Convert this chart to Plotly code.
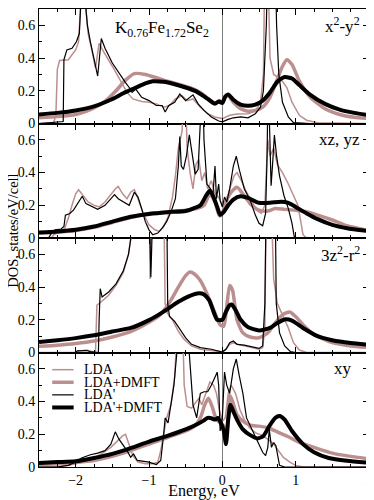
import plotly.graph_objects as go
from plotly.subplots import make_subplots

# ---- x2-y2 panel ----
x2y2_lda_e = [-2.5, -2.3, -2.27, -2.25, -2.22, -2.1, -2.05, -2.0, -1.96, -1.93, -1.9, -1.87, -1.83, -1.78, -1.73,
              -1.68, -1.62, -1.5, -1.4, -1.3, -1.22, -1.1, -1.0, -0.9, -0.8, -0.72, -0.64, -0.55, -0.48, -0.4,
              -0.3, -0.2, -0.1, 0.0, 0.1, 0.2, 0.35, 0.45, 0.52, 0.56, 0.58, 0.62, 0.65, 0.7, 0.8, 0.88, 0.95,
              1.05, 1.15, 1.3, 2.0]
x2y2_lda = [0, 0.005, 0.05, 0.33, 0.385, 0.39, 0.42, 0.45, 0.5, 0.75, 1.0, 0.75, 0.55, 0.45, 0.34,
            0.49, 0.44, 0.35, 0.27, 0.19, 0.15, 0.135, 0.13, 0.12, 0.1, 0.11, 0.15, 0.17, 0.14, 0.15,
            0.1, 0.06, 0.04, 0.03, 0.05, 0.058, 0.06, 0.075, 0.13, 0.3, 1.0, 1.0, 0.4, 0.3, 0.27, 0.22, 0.13,
            0.05, 0.02, 0.005, 0]
x2y2_dmft_e = [-2.5, -2.25, -2.0, -1.85, -1.75, -1.6, -1.45, -1.32, -1.2, -1.05, -0.9, -0.75, -0.6, -0.45, -0.3,
               -0.2, -0.1, -0.03, 0.0, 0.04, 0.08, 0.15, 0.25, 0.35, 0.45, 0.55, 0.65, 0.75, 0.82, 0.88, 0.95,
               1.05, 1.2, 1.4, 1.6, 1.8, 2.0]
x2y2_dmft = [0.035, 0.042, 0.055, 0.075, 0.095, 0.135, 0.2, 0.265, 0.305, 0.3, 0.28, 0.258, 0.24, 0.22, 0.19,
             0.155, 0.125, 0.14, 0.125, 0.16, 0.17, 0.13, 0.09, 0.075, 0.08, 0.1, 0.16, 0.27, 0.35, 0.39, 0.36,
             0.26, 0.16, 0.09, 0.055, 0.038, 0.03]
x2y2_ldap_e = [-2.5, -2.3, -2.2, -2.17, -2.16, -2.12, -2.05, -1.99, -1.95, -1.93, -1.9, -1.87, -1.84, -1.8, -1.75,
               -1.7, -1.65, -1.6, -1.5, -1.4, -1.32, -1.27, -1.23, -1.18, -1.1, -1.0, -0.9, -0.82, -0.78, -0.73,
               -0.65, -0.58, -0.5, -0.4, -0.33, -0.25, -0.15, -0.05, 0.0, 0.08, 0.15, 0.25, 0.35, 0.45, 0.52,
               0.56, 0.6, 0.62, 0.72, 0.74, 0.77, 0.82, 0.9, 0.97, 1.2, 2.0]
x2y2_ldap = [0, 0.005, 0.01, 0.012, 0.39, 0.45, 0.46, 0.5, 0.55, 0.8, 1.0, 0.75, 0.6, 0.5, 0.4,
             0.29, 0.52, 0.46, 0.37, 0.3, 0.25, 0.22, 0.19, 0.21, 0.16, 0.14, 0.11, 0.11, 0.07, 0.11,
             0.13, 0.18, 0.14, 0.175, 0.12, 0.08, 0.04, 0.015, 0.01, 0.025, 0.035, 0.04, 0.035, 0.06, 0.1,
             0.2, 0.6, 1.0, 1.0, 0.6, 0.3, 0.13, 0.04, 0.005, 0, 0]
x2y2_ldap_dmft_e = [-2.5, -2.25, -2.0, -1.75, -1.5, -1.35, -1.2, -1.05, -0.95, -0.8, -0.65, -0.5, -0.35, -0.2,
                    -0.1, -0.05, 0.0, 0.04, 0.08, 0.15, 0.25, 0.35, 0.45, 0.55, 0.65, 0.75, 0.85, 0.95, 1.05,
                    1.2, 1.4, 1.6, 1.8, 2.0]
x2y2_ldap_dmft = [0.055, 0.065, 0.08, 0.105, 0.15, 0.185, 0.215, 0.245, 0.258, 0.255, 0.24, 0.22, 0.195, 0.15,
                  0.12, 0.135, 0.125, 0.165, 0.178, 0.145, 0.115, 0.108, 0.115, 0.14, 0.19, 0.255, 0.284, 0.275,
                  0.235, 0.175, 0.12, 0.085, 0.065, 0.05]

# ---- xz, yz panel ----
xz_lda_e = [-2.5, -2.33, -2.3, -2.25, -2.2, -2.15, -2.1, -2.05, -2.0, -1.96, -1.9, -1.83, -1.75, -1.68, -1.6,
            -1.52, -1.46, -1.42, -1.36, -1.3, -1.25, -1.2, -1.15, -1.08, -1.0, -0.92, -0.86, -0.8, -0.74, -0.68,
            -0.64, -0.6, -0.55, -0.51, -0.48, -0.44, -0.4, -0.36, -0.32, -0.28, -0.24, -0.2, -0.15, -0.1, -0.05,
            0.0, 0.05, 0.1, 0.16, 0.2, 0.26, 0.33, 0.4, 0.47, 0.53, 0.58, 0.6, 0.62, 0.65, 0.7, 0.75, 0.82,
            0.9, 0.97, 1.03, 1.07, 1.1, 1.15, 2.0]
xz_lda = [0, 0, 0.02, 0.03, 0.04, 0.06, 0.12, 0.2, 0.27, 0.295, 0.26, 0.22, 0.2, 0.19, 0.22,
          0.27, 0.3, 0.315, 0.27, 0.24, 0.28, 0.295, 0.24, 0.15, 0.08, 0.05, 0.04, 0.07, 0.13, 0.25,
          0.38, 0.55, 0.65, 1.0, 0.55, 0.4, 0.3, 0.45, 0.48, 0.35, 0.4, 0.3, 0.35, 0.27, 0.25,
          0.2, 0.22, 0.3, 0.38, 0.4, 0.35, 0.28, 0.22, 0.17, 0.15, 0.2, 0.4, 0.6, 0.5, 0.55, 0.45, 0.4,
          0.33, 0.26, 0.2, 0.1, 0.02, 0, 0]
xz_dmft_e = [-2.5, -2.25, -2.0, -1.75, -1.5, -1.25, -1.0, -0.75, -0.5, -0.35, -0.25, -0.17, -0.1, -0.04, 0.0,
             0.05, 0.12, 0.2, 0.28, 0.38, 0.5, 0.62, 0.72, 0.85, 1.0, 1.15, 1.3, 1.5, 1.7, 2.0]
xz_dmft = [0.03, 0.035, 0.045, 0.065, 0.095, 0.125, 0.15, 0.16, 0.17, 0.18, 0.2, 0.27, 0.22, 0.135, 0.15,
           0.22, 0.28, 0.31, 0.27, 0.21, 0.17, 0.165, 0.18, 0.175, 0.17, 0.16, 0.14, 0.11, 0.075, 0.045]
xz_ldap_e = [-2.5, -2.37, -2.33, -2.28, -2.2, -2.16, -2.14, -2.08, -2.03, -1.97, -1.91, -1.86, -1.8, -1.7, -1.6,
             -1.5, -1.47, -1.42, -1.35, -1.27, -1.2, -1.15, -1.1, -1.05, -1.0, -0.95, -0.88, -0.82, -0.76, -0.7,
             -0.64, -0.6, -0.58, -0.56, -0.53, -0.49, -0.45, -0.41, -0.37, -0.33, -0.29, -0.27, -0.25, -0.21,
             -0.16, -0.13, -0.1, -0.08, -0.05, -0.03, 0.0, 0.03, 0.06, 0.1, 0.15, 0.19, 0.23, 0.3, 0.38, 0.45,
             0.5, 0.55, 0.59, 0.61, 0.625, 0.645, 0.665, 0.685, 0.71, 0.74, 0.78, 0.84, 0.9, 0.95, 0.98, 1.0, 2.0]
xz_ldap = [0, 0, 0.03, 0.05, 0.055, 0.07, 0.14, 0.15, 0.17, 0.21, 0.255, 0.21, 0.195, 0.175, 0.2,
           0.25, 0.265, 0.24, 0.22, 0.2, 0.28, 0.25, 0.18, 0.1, 0.05, 0.02, 0.03, 0.06, 0.1, 0.16,
           0.24, 0.44, 0.62, 0.44, 0.42, 0.5, 0.63, 0.5, 0.39, 0.42, 0.75, 1.0, 0.6, 0.33,
           0.3, 0.25, 0.44, 0.24, 0.33, 0.23, 0.19, 0.25, 0.22, 0.3, 0.44, 0.5, 0.42, 0.3, 0.23, 0.14,
           0.09, 0.075, 0.15, 0.5, 1.0, 0.6, 0.32, 0.45, 0.63, 0.5, 0.38, 0.26, 0.18, 0.09, 0.01, 0, 0]
xz_ldap_dmft_e = [-2.5, -2.25, -2.0, -1.75, -1.5, -1.25, -1.0, -0.75, -0.5, -0.4, -0.3, -0.22, -0.17, -0.12,
                  -0.07, -0.03, 0.02, 0.08, 0.15, 0.25, 0.35, 0.5, 0.65, 0.8, 0.9, 1.0, 1.15, 1.3, 1.5, 1.7, 2.0]
xz_ldap_dmft = [0.034, 0.04, 0.05, 0.07, 0.1, 0.13, 0.147, 0.158, 0.165, 0.18, 0.2, 0.26, 0.29, 0.25,
                0.19, 0.142, 0.16, 0.2, 0.235, 0.255, 0.245, 0.215, 0.215, 0.222, 0.215, 0.19, 0.15, 0.115,
                0.08, 0.06, 0.042]

# ---- 3z2-r2 panel ----
z2_lda_e = [-2.5, -2.0, -1.95, -1.85, -1.78, -1.73, -1.71, -1.65, -1.55, -1.45, -1.35, -1.28, -1.23, -1.17, -1.0,
            -0.985, -0.95, -0.8, -0.78, -0.75, -0.68, -0.6, -0.52, -0.42, -0.3, -0.15, 0.0, 0.05, 0.1, 0.15,
            0.25, 0.4, 0.5, 0.55, 0.58, 0.6, 0.66, 0.7, 0.75, 0.82, 0.9, 0.97, 1.05, 1.15, 2.0]
z2_lda = [0, 0, 0.01, 0.015, 0.005, 0, 0.29, 0.31, 0.35, 0.41, 0.49, 0.6, 0.75, 1.0, 1.0,
          0.45, 1.0, 1.0, 0.3, 0.24, 0.2, 0.13, 0.08, 0.04, 0.02, 0.012, 0.005, 0.02, 0.05, 0.06,
          0.045, 0.03, 0.02, 0.03, 0.15, 1.0, 1.0, 0.45, 0.3, 0.23, 0.15, 0.06, 0.015, 0, 0]
z2_dmft_e = [-2.5, -2.25, -2.0, -1.75, -1.5, -1.25, -1.0, -0.85, -0.7, -0.6, -0.5, -0.44, -0.38, -0.3, -0.2,
             -0.1, -0.03, 0.02, 0.06, 0.1, 0.14, 0.2, 0.28, 0.38, 0.5, 0.62, 0.72, 0.82, 0.92, 1.0, 1.1, 1.25,
             1.5, 1.75, 2.0]
z2_dmft = [0.038, 0.045, 0.055, 0.07, 0.095, 0.128, 0.185, 0.23, 0.32, 0.4, 0.47, 0.492, 0.48, 0.44, 0.35,
           0.24, 0.17, 0.16, 0.28, 0.41, 0.38, 0.2, 0.12, 0.095, 0.09, 0.12, 0.18, 0.23, 0.248, 0.22, 0.17, 0.11,
           0.06, 0.04, 0.03]
z2_ldap_e = [-2.5, -2.0, -1.98, -1.85, -1.8, -1.69, -1.68, -1.665, -1.64, -1.55, -1.45, -1.35, -1.28, -1.22,
             -1.15, -1.0, -0.975, -0.94, -0.76, -0.745, -0.72, -0.65, -0.58, -0.5, -0.42, -0.3, -0.15, -0.05,
             0.0, 0.05, 0.1, 0.15, 0.2, 0.3, 0.4, 0.5, 0.55, 0.58, 0.6, 0.72, 0.735, 0.78, 0.85, 0.93, 1.0, 2.0]
z2_ldap = [0, 0, 0.01, 0.012, 0.005, 0, 0.2, 0.39, 0.34, 0.37, 0.42, 0.5, 0.6, 0.75,
           1.0, 1.0, 0.46, 1.0, 1.0, 0.3, 0.22, 0.19, 0.14, 0.09, 0.05, 0.03, 0.02, 0.01,
           0.003, 0.02, 0.06, 0.07, 0.05, 0.045, 0.035, 0.025, 0.04, 0.3, 1.0, 1.0, 0.3, 0.12, 0.04, 0.005, 0, 0]
z2_ldap_dmft_e = [-2.5, -2.25, -2.0, -1.75, -1.5, -1.25, -1.0, -0.8, -0.6, -0.45, -0.32, -0.25, -0.18, -0.12,
                  -0.07, 0.0, 0.05, 0.1, 0.13, 0.18, 0.25, 0.35, 0.5, 0.65, 0.75, 0.85, 0.95, 1.1, 1.3, 1.5,
                  1.75, 2.0]
z2_ldap_dmft = [0.064, 0.075, 0.088, 0.105, 0.128, 0.15, 0.198, 0.25, 0.31, 0.345, 0.362, 0.355, 0.32, 0.25,
                0.2, 0.2, 0.25, 0.29, 0.293, 0.26, 0.2, 0.155, 0.135, 0.15, 0.18, 0.202, 0.195, 0.15, 0.1, 0.075,
                0.058, 0.048]

# ---- xy panel ----
xy_lda_e = [-2.5, -2.3, -2.1, -1.95, -1.8, -1.65, -1.52, -1.43, -1.36, -1.32, -1.28, -1.22, -1.15, -1.05, -0.95,
            -0.88, -0.84, -0.8, -0.76, -0.7, -0.65, -0.6, -0.55, -0.52, -0.48, -0.42, -0.36, -0.32, -0.28, -0.22,
            -0.17, -0.12, -0.08, -0.04, 0.0, 0.04, 0.08, 0.12, 0.18, 0.24, 0.3, 0.37, 0.45, 0.55, 0.62, 0.7,
            0.76, 0.83, 0.92, 1.0, 1.1, 2.0]
xy_lda = [0, 0, 0.01, 0.025, 0.045, 0.08, 0.12, 0.16, 0.19, 0.2, 0.15, 0.07, 0.03, 0.02, 0.02,
          0.03, 0.1, 0.2, 0.3, 0.38, 0.55, 1.0, 1.0, 0.5, 0.37, 0.36, 0.4, 0.42, 0.38, 0.45,
          0.52, 0.5, 0.45, 0.35, 0.28, 0.3, 0.45, 0.5, 0.45, 0.35, 0.29, 0.24, 0.21, 0.19, 0.17, 0.14,
          0.1, 0.06, 0.03, 0.01, 0, 0]
xy_dmft_e = [-2.5, -2.25, -2.0, -1.75, -1.5, -1.25, -1.0, -0.75, -0.5, -0.38, -0.3, -0.24, -0.19, -0.14, -0.08,
             -0.03, 0.02, 0.06, 0.1, 0.14, 0.2, 0.28, 0.38, 0.5, 0.62, 0.75, 0.9, 1.05, 1.25, 1.5, 1.75, 2.0]
xy_dmft = [0.015, 0.02, 0.028, 0.04, 0.065, 0.1, 0.14, 0.18, 0.22, 0.25, 0.3, 0.38, 0.42, 0.37, 0.29,
           0.27, 0.25, 0.22, 0.44, 0.4, 0.32, 0.28, 0.255, 0.25, 0.24, 0.215, 0.185, 0.15, 0.12, 0.085, 0.065, 0.05]
xy_ldap_e = [-2.5, -2.25, -2.1, -2.0, -1.92, -1.8, -1.7, -1.6, -1.52, -1.46, -1.41, -1.36, -1.3, -1.25, -1.21,
             -1.16, -1.1, -1.0, -0.9, -0.84, -0.8, -0.78, -0.74, -0.7, -0.66, -0.62, -0.58, -0.5, -0.45, -0.4,
             -0.35, -0.3, -0.25, -0.2, -0.15, -0.1, -0.07, -0.05, -0.03, 0.0, 0.03, 0.06, 0.1, 0.15, 0.19, 0.23,
             0.28, 0.33, 0.4, 0.48, 0.55, 0.59, 0.62, 0.64, 0.67, 0.7, 0.73, 0.78, 0.85, 2.0]
xy_ldap = [0, 0, 0.01, 0.03, 0.055, 0.075, 0.085, 0.1, 0.14, 0.215, 0.17, 0.14, 0.1, 0.06, 0.08,
           0.04, 0.035, 0.03, 0.015, 0.04, 0.2, 0.3, 0.27, 0.4, 0.5, 0.7, 1.0, 1.0, 0.7, 0.38,
           0.3, 0.45, 0.46, 0.46, 0.5, 0.55, 0.58, 0.5, 0.22, 0.3, 0.58, 0.5, 0.45, 0.6, 0.66, 0.56,
           0.45, 0.3, 0.23, 0.15, 0.09, 0.07, 0.12, 0.23, 0.12, 0.15, 0.13, 0.01, 0, 0]
xy_ldap_dmft_e = [-2.5, -2.25, -2.0, -1.75, -1.5, -1.25, -1.0, -0.75, -0.5, -0.35, -0.25, -0.2, -0.15, -0.1,
                  -0.06, -0.02, 0.02, 0.05, 0.08, 0.11, 0.15, 0.2, 0.28, 0.38, 0.48, 0.56, 0.64, 0.72, 0.78,
                  0.85, 0.95, 1.1, 1.25, 1.45, 1.7, 2.0]
xy_ldap_dmft = [0.025, 0.03, 0.035, 0.055, 0.08, 0.115, 0.155, 0.19, 0.23, 0.26, 0.285, 0.3, 0.298, 0.29,
                0.3, 0.27, 0.22, 0.14, 0.29, 0.38, 0.34, 0.29, 0.23, 0.195, 0.175, 0.19, 0.25, 0.3, 0.312,
                0.29, 0.22, 0.14, 0.09, 0.055, 0.038, 0.026]

series_names = ["LDA", "LDA+DMFT", "LDA'", "LDA'+DMFT"]
panel_labels = ["x<sup>2</sup>-y<sup>2</sup>", "xz, yz", "3z<sup>2</sup>-r<sup>2</sup>", "xy"]
panels = [
    [(x2y2_lda_e, x2y2_lda), (x2y2_dmft_e, x2y2_dmft), (x2y2_ldap_e, x2y2_ldap), (x2y2_ldap_dmft_e, x2y2_ldap_dmft)],
    [(xz_lda_e, xz_lda), (xz_dmft_e, xz_dmft), (xz_ldap_e, xz_ldap), (xz_ldap_dmft_e, xz_ldap_dmft)],
    [(z2_lda_e, z2_lda), (z2_dmft_e, z2_dmft), (z2_ldap_e, z2_ldap), (z2_ldap_dmft_e, z2_ldap_dmft)],
    [(xy_lda_e, xy_lda), (xy_dmft_e, xy_dmft), (xy_ldap_e, xy_ldap), (xy_ldap_dmft_e, xy_ldap_dmft)],
]

ROSY = "#bc8f8f"
FONT = "Liberation Serif"
styles = [(ROSY, 1.5), (ROSY, 3.5), ("black", 1.2), ("black", 4)]

fig = make_subplots(rows=4, cols=1, shared_xaxes=True, vertical_spacing=0)

for row, curves in enumerate(panels, start=1):
    for (e, dos), (color, width), name in zip(curves, styles, series_names):
        assert len(e) == len(dos), (row, name)
        fig.add_trace(go.Scatter(
            x=e, y=dos, mode="lines", name=name, showlegend=False,
            line=dict(color=color, width=width, shape="spline" if width > 3 else "linear", smoothing=0.6),
        ), row=row, col=1)

fig.update_xaxes(
    range=[-2.5, 2], tick0=0, dtick=1, ticks="inside", ticklen=6, tickcolor="black",
    minor=dict(dtick=0.25, ticks="inside", ticklen=3, tickcolor="black"),
    showline=True, linecolor="black", linewidth=1, mirror="allticks",
    showgrid=False, zeroline=True, zerolinecolor="#808080", zerolinewidth=1,
    tickfont=dict(family=FONT, size=14, color="black"), automargin=False,
)
fig.update_yaxes(
    range=[0, 0.7], tickvals=[0, 0.2, 0.4, 0.6], ticktext=["0", "0.2", "0.4", "0.6"],
    ticks="inside", ticklen=6, tickcolor="black",
    minor=dict(tickvals=[0.1, 0.3, 0.5], ticks="inside", ticklen=3, tickcolor="black"),
    showline=True, linecolor="black", linewidth=1, mirror="allticks",
    showgrid=False, zeroline=False,
    tickfont=dict(family=FONT, size=14, color="black"), automargin=False,
)
fig.update_xaxes(title_text="Energy, eV", title_font=dict(family=FONT, size=16, color="black"),
                 title_standoff=4, row=4, col=1)

# panel labels
for row, label in enumerate(panel_labels, start=1):
    suffix = "" if row == 1 else str(row)
    fig.add_annotation(x=1.9 if row < 4 else 1.8, y=0.6, xref="x" + suffix, yref="y" + suffix,
                       text=label, showarrow=False, xanchor="right", yanchor="middle",
                       font=dict(family=FONT, size=17, color="black"))

fig.add_annotation(x=-0.82, y=0.58, xref="x", yref="y",
                   text="K<sub>0.76</sub>Fe<sub>1.72</sub>Se<sub>2</sub>", showarrow=False,
                   font=dict(family=FONT, size=17, color="black"))

fig.add_annotation(x=-0.077, y=0.515, xref="paper", yref="paper", text="DOS, states/eV/cell",
                   textangle=-90, showarrow=False, xanchor="center", yanchor="middle",
                   font=dict(family=FONT, size=14.5, color="black"))

# legend drawn inside the xy panel
legend_rows = [0.85, 0.74, 0.63, 0.52]
for (color, width), name, ly in zip(styles, series_names, legend_rows):
    fig.add_shape(type="line", xref="x4 domain", yref="y4 domain", x0=0.04, x1=0.105, y0=ly, y1=ly,
                  line=dict(color=color, width=width))
    fig.add_annotation(x=0.13, y=ly, xref="x4 domain", yref="y4 domain", text=name, showarrow=False,
                       xanchor="left", yanchor="middle", font=dict(family=FONT, size=14, color="black"))

# the page adds an 8px body margin, so the figure is sized to fit inside the window
fig.update_layout(
    template="none", width=366, height=492,
    margin=dict(l=30.5, r=5, t=1, b=32.5),
    paper_bgcolor="white", plot_bgcolor="white",
    font=dict(family=FONT, color="black"),
    showlegend=False,
)

fig.write_html("out.html")
